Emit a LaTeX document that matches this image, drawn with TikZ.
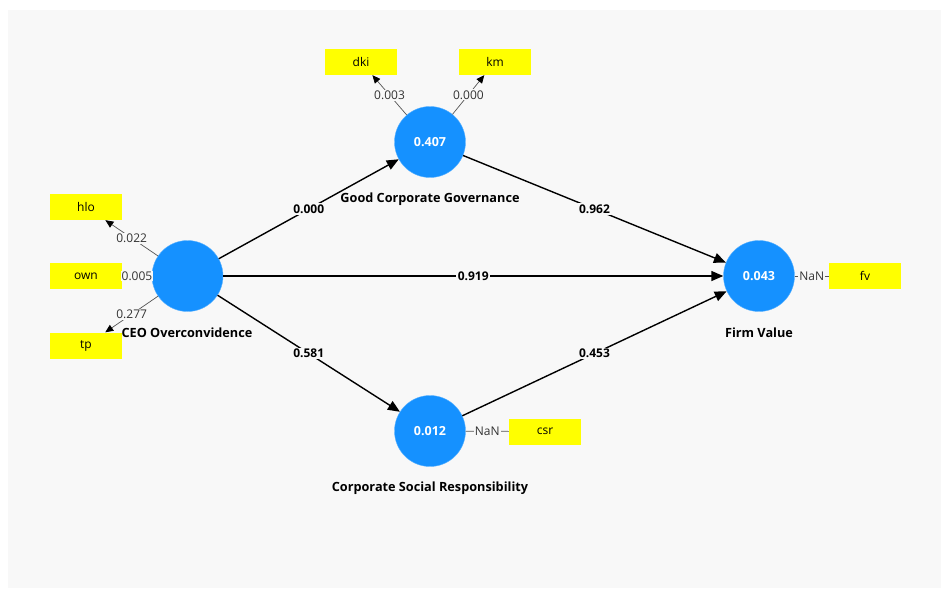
\documentclass[tikz,border=0pt]{standalone}
\usepackage{fontspec}
\setmainfont{Open Sans}
\usetikzlibrary{arrows.meta}
\definecolor{panel}{HTML}{F8F8F8}
\definecolor{lvblue}{HTML}{1591FF}
\definecolor{indyellow}{HTML}{FFFF00}
\definecolor{loadgray}{HTML}{555555}
\begin{document}
\begin{tikzpicture}[x=1pt,y=-1pt,
  lv/.style={circle, fill=lvblue, draw=lvblue!70!white, line width=0.4pt, minimum size=71pt, inner sep=0pt, text=white, font=\bfseries\fontsize{12.5}{14}\selectfont},
  mv/.style={rectangle, fill=indyellow, minimum width=72pt, minimum height=26pt, inner sep=0pt, font=\fontsize{12}{14}\selectfont},
  pathedge/.style={draw=black, line width=1.4pt, -{Triangle[length=12pt,width=10pt]}},
  coef/.style={fill=panel, inner sep=1.5pt, font=\bfseries\fontsize{12}{14}\selectfont},
  loadedge/.style={draw=loadgray, line width=0.7pt, -{Triangle[length=8pt,width=7pt,color=black]}},
  plainedge/.style={draw=loadgray, line width=0.7pt},
  load/.style={fill=panel, inner sep=1pt, text=black!80, font=\fontsize{12}{14}\selectfont},
  lvname/.style={font=\bfseries\fontsize{12.7}{14}\selectfont}
]
\useasboundingbox (0,0) rectangle (944,590);
\fill[white] (0,0) rectangle (944,590);
\fill[panel] (8,10) rectangle (941,588);

% latent variables
\node[lv] (ceo) at (187.5,276) {};
\node[lv] (gcg) at (430,142) {0.407};
\node[lv] (fvl) at (759,276) {0.043};
\node[lv] (csrl) at (430,431) {0.012};

% indicators
\node[mv] (dki) at (361,62) {dki};
\node[mv] (km) at (495,62) {km};
\node[mv] (hlo) at (86,207) {hlo};
\node[mv] (own) at (86,276) {own};
\node[mv] (tp) at (86,345.5) {tp};
\node[mv] (fv) at (865,276) {fv};
\node[mv] (csr) at (545,431.5) {csr};

% names
\node[lvname] (ceoname) at (187,333) {CEO Overconvidence};
\node[lvname] (gcgname) at (430,199) {Good Corporate Governance};
\node[lvname] (fvname) at (759,333) {Firm Value};
\node[lvname] (csrname) at (430,488) {Corporate Social Responsibility};

% structural paths
\draw[pathedge] (ceo) -- (gcg) node[coef, pos=0.5] {0.000};
\draw[pathedge] (ceo) -- (fvl) node[coef, pos=0.5] {0.919};
\draw[pathedge] (gcg) -- (fvl) node[coef, pos=0.5] {0.962};
\draw[pathedge] (ceo) -- (csrl) node[coef, pos=0.5] {0.581};
\draw[pathedge] (csrl) -- (fvl) node[coef, pos=0.5] {0.453};

% measurement paths
\draw[loadedge] (gcg) -- (dki) node[load, pos=0.5] {0.003};
\draw[loadedge] (gcg) -- (km) node[load, pos=0.5] {0.000};
\draw[loadedge] (ceo) -- (hlo) node[load, pos=0.5] {0.022};
\draw[loadedge] (ceo) -- (own) node[load, pos=0.5] {0.005};
\draw[loadedge] (ceo) -- (tp) node[load, pos=0.5] {0.277};
\draw[plainedge] (fvl) -- (fv) node[load, pos=0.5] {NaN};
\draw[plainedge] (csrl) -- (csr) node[load, pos=0.5] {NaN};
\end{tikzpicture}
\end{document}
